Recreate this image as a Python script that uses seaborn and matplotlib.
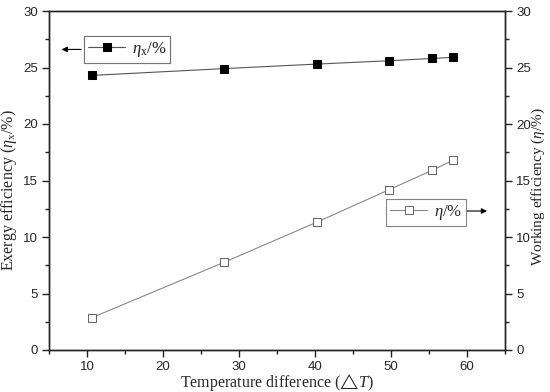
import matplotlib
matplotlib.use("Agg")
import matplotlib.pyplot as plt
import seaborn as sns
import pandas as pd
from matplotlib.ticker import MultipleLocator

# values
delta_t = [10.6, 28.0, 40.2, 49.8, 55.4, 58.2]
exergy_eff = [24.3, 24.9, 25.3, 25.6, 25.8, 25.9]
working_eff = [2.85, 7.75, 11.3, 14.2, 15.9, 16.8]

sns.set_style("ticks")
plt.rcParams["font.family"] = ["Liberation Sans", "DejaVu Sans"]
plt.rcParams["mathtext.fontset"] = "custom"
plt.rcParams["mathtext.rm"] = "Liberation Serif"
plt.rcParams["mathtext.it"] = "Liberation Serif:italic"
plt.rcParams["mathtext.fallback"] = "stix"

df = pd.DataFrame({"dt": delta_t, "ex": exergy_eff, "wk": working_eff})

fig = plt.figure(figsize=(5.5, 3.92), dpi=100)
ax = fig.add_axes([49 / 550, 1 - 350 / 392, 456 / 550, 339 / 392])
ax2 = ax.twinx()

sns.lineplot(data=df, x="dt", y="ex", ax=ax, color="#555555", linewidth=0.8,
             marker="s", markersize=6, markerfacecolor="black",
             markeredgecolor="black", label=r"$\eta_{\rm x}/\%$", legend=False)
sns.lineplot(data=df, x="dt", y="wk", ax=ax2, color="#888888", linewidth=0.8,
             marker="s", markersize=6, markerfacecolor="white",
             markeredgecolor="#666666", label=r"$\eta/\%$", legend=False)

ax.set_xlim(5, 65)
ax.set_ylim(0, 30)
ax2.set_ylim(0, 30)
for a in (ax, ax2):
  a.xaxis.set_major_locator(MultipleLocator(10))
  a.xaxis.set_minor_locator(MultipleLocator(5))
  a.yaxis.set_major_locator(MultipleLocator(5))
  a.yaxis.set_minor_locator(MultipleLocator(2.5))
  a.tick_params(which="major", length=5, width=1, labelsize=9.5, color="#222222", pad=3)
  a.tick_params(which="minor", length=3, width=1, color="#222222")
  for s in a.spines.values():
    s.set_linewidth(1)
    s.set_color("#222222")

serif = ["Liberation Serif", "DejaVu Serif"]
ax.set_xlabel(r"Temperature difference ($\bigtriangleup T$)", fontsize=11.5, family=serif)
ax.set_ylabel(r"Exergy efficiency ($\eta_{\rm x}$/%)", fontsize=11.5, family=serif)
ax2.set_ylabel(r"Working efficiency ($\eta$/%)", fontsize=11, family=serif)
ax.xaxis.set_label_coords(0.5, -0.066)
ax.yaxis.set_label_coords(-0.066, 0.472)
ax2.yaxis.set_label_coords(1.054, 0.481)

h1, l1 = ax.get_legend_handles_labels()
h2, l2 = ax2.get_legend_handles_labels()
leg_kw = dict(loc="upper left", bbox_transform=fig.transFigure, frameon=True,
              fancybox=False, edgecolor="#666666", handlelength=2.2,
              borderpad=0.25, handletextpad=0.4, borderaxespad=0,
              prop={"family": serif, "size": 12})
leg1 = ax.legend(h1, l1, bbox_to_anchor=(84 / 550, 1 - 36 / 392), **leg_kw)
leg1.get_frame().set_linewidth(0.8)
ax.add_artist(leg1)
leg2 = ax2.legend(h2, l2, bbox_to_anchor=(386 / 550, 1 - 199 / 392), **leg_kw)
leg2.get_frame().set_linewidth(0.8)

# arrows pointing to the matching axis
ax.annotate("", xy=(6.3, 26.6), xytext=(9.6, 26.6),
            arrowprops=dict(arrowstyle="-|>", color="black", lw=0.8, mutation_scale=8))
ax2.annotate("", xy=(63.0, 12.3), xytext=(59.6, 12.3),
             arrowprops=dict(arrowstyle="-|>", color="black", lw=0.8, mutation_scale=8))

fig.savefig("out.png", dpi=100)
plt.close()
